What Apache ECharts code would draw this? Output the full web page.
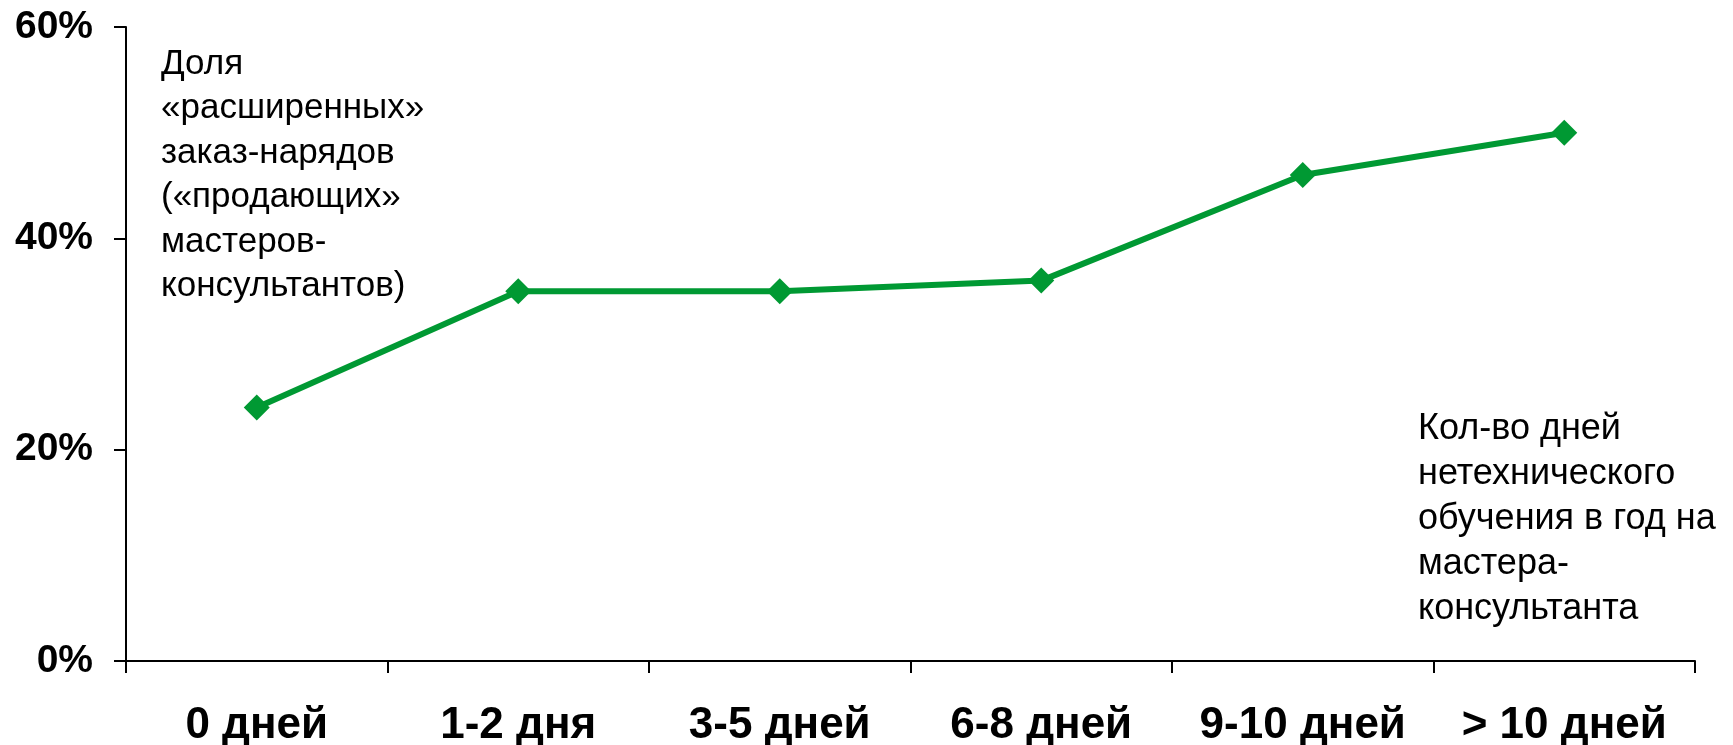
<!DOCTYPE html>
<html>
<head>
<meta charset="utf-8">
<script src="https://cdn.jsdelivr.net/npm/echarts@6/dist/echarts.min.js"></script>
<style>
  html, body { margin: 0; padding: 0; background: #fff; }
  #chart { width: 1733px; height: 745px; }
</style>
</head>
<body>
<div id="chart"></div>
<script>
  // categories on the x axis
  var categories = ['0 дней', '1-2 дня', '3-5 дней', '6-8 дней', '9-10 дней', '> 10 дней'];
  // share of "extended" orders, %
  var shareValues = [24, 35, 35, 36, 46, 50];
  // y axis ticks
  var yTicks = [0, 20, 40, 60];
  // annotation texts
  var yNote = ['Доля', '«расширенных»', 'заказ-нарядов', '(«продающих»', 'мастеров-', 'консультантов)'];
  var xNote = ['Кол-во дней', 'нетехнического', 'обучения в год на', 'мастера-', 'консультанта'];

  var myChart = echarts.init(document.getElementById('chart'));
  var options = {
    backgroundColor: '#fff',
    animation: false,
    grid: {
      left: 126,
      right: 38,
      top: 27,
      bottom: 84,
      containLabel: false,
      outerBoundsMode: 'none'
    },
    xAxis: {
      type: 'category',
      data: categories,
      boundaryGap: true,
      axisLine: { lineStyle: { color: '#000', width: 2 } },
      axisTick: { show: true, length: 12, lineStyle: { color: '#000', width: 2 } },
      axisLabel: {
        color: '#000',
        fontFamily: 'Liberation Sans',
        fontWeight: 'bold',
        fontSize: 44,
        margin: 43,
        interval: 0
      },
      splitLine: { show: false }
    },
    yAxis: {
      type: 'value',
      min: yTicks[0],
      max: yTicks[yTicks.length - 1],
      interval: yTicks[1] - yTicks[0],
      axisLine: { show: true, lineStyle: { color: '#000', width: 2 } },
      axisTick: { show: true, length: 12, lineStyle: { color: '#000', width: 2 } },
      axisLabel: {
        color: '#000',
        fontFamily: 'Liberation Sans',
        fontWeight: 'bold',
        fontSize: 39,
        margin: 33,
        formatter: '{value}%'
      },
      splitLine: { show: false }
    },
    graphic: [
      {
        type: 'text',
        x: 161,
        y: 42,
        style: {
          text: yNote.join('\n'),
          font: '35px "Liberation Sans"',
          lineHeight: 44.5,
          fill: '#000',
          verticalAlign: 'top'
        }
      },
      {
        type: 'text',
        x: 1418,
        y: 407,
        style: {
          text: xNote.join('\n'),
          font: '36px "Liberation Sans"',
          lineHeight: 45,
          fill: '#000',
          verticalAlign: 'top'
        }
      }
    ],
    series: [
      {
        name: 'Доля',
        type: 'line',
        data: shareValues,
        symbol: 'diamond',
        symbolSize: 26,
        lineStyle: { color: '#009933', width: 6 },
        itemStyle: { color: '#009933' }
      }
    ]
  };
  myChart.setOption(options);
</script>
</body>
</html>
